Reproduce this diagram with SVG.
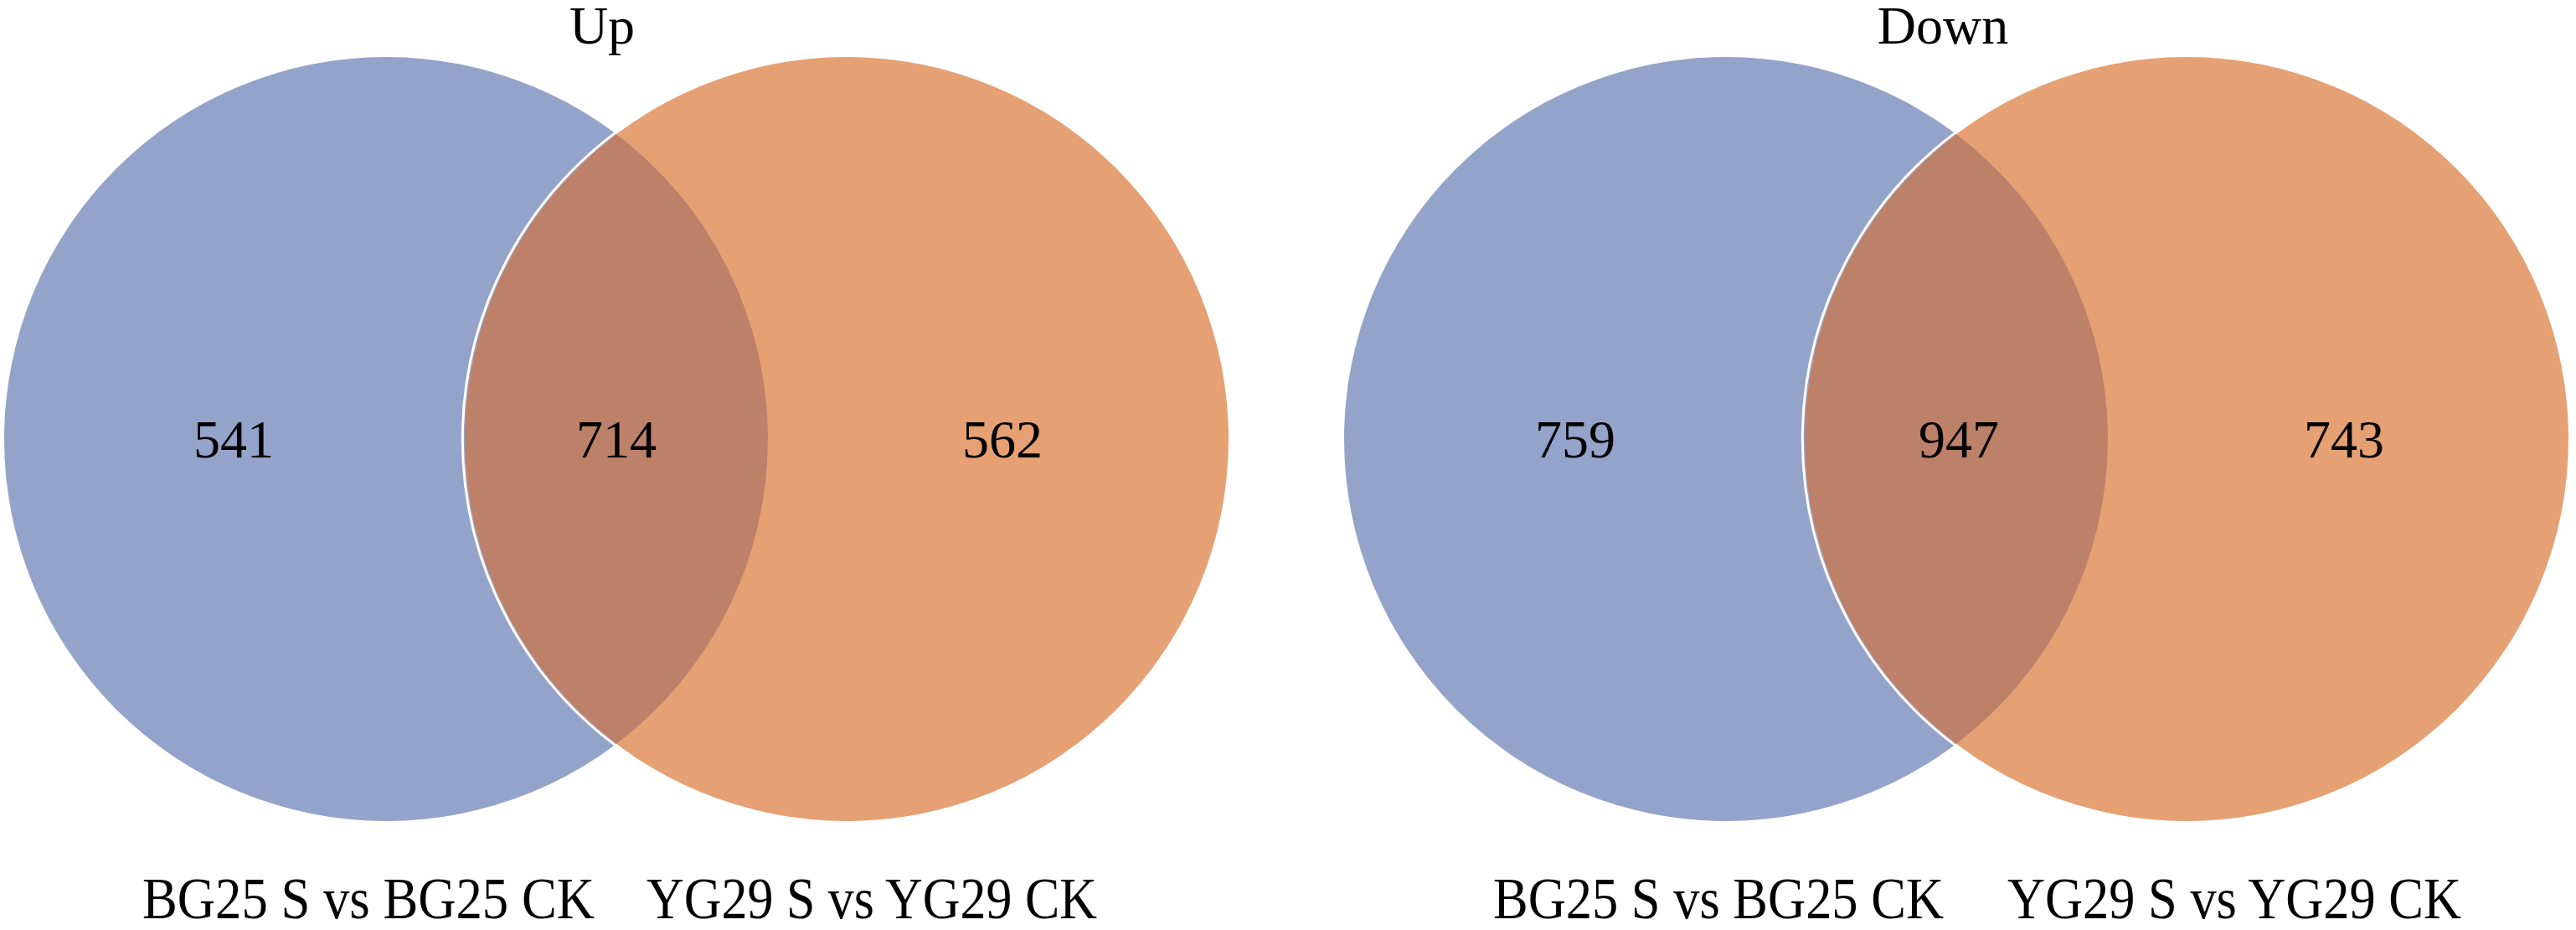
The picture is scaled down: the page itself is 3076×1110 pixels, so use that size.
<svg xmlns="http://www.w3.org/2000/svg" width="3076" height="1110" viewBox="0 0 3076 1110">
<style>
.bg{fill:#ffffff}
.a{fill:#94A3CA}
.b{fill:#E5A073}
.ab{fill:#BD8069}
.edge{fill:none;stroke:#ffffff;stroke-width:3}
.num{font-family:"Liberation Serif","Times New Roman",serif;font-size:64px;fill:#000;text-anchor:middle}
.title{font-family:"Liberation Serif","Times New Roman",serif;font-size:64px;fill:#000;text-anchor:middle}
.lab{font-family:"Liberation Serif","Times New Roman",serif;font-size:70px;fill:#000;text-anchor:middle}
</style>
<rect class="bg" x="0" y="0" width="3076" height="1110"/>
<g id="venn-up">
  <text class="title" x="719" y="52">Up</text>
  <g id="up-set-a"><circle class="a" cx="461" cy="524" r="456"/></g>
  <g id="up-set-b"><circle class="b" cx="1011" cy="524" r="456"/></g>
  <g id="up-overlap">
    <path class="ab" d="M736,160.3 A456,456 0 0 1 736,887.7 A456,456 0 0 1 736,160.3 Z"/>
    <path class="edge" d="M734.5,158.6 A457.5,457.5 0 0 0 734.5,889.4"/>
  </g>
  <text class="num" x="279" y="546">541</text>
  <text class="num" x="736" y="546">714</text>
  <text class="num" x="1197" y="546">562</text>
  <text class="lab" x="440" y="1096" textLength="540" lengthAdjust="spacingAndGlyphs">BG25 S vs BG25 CK</text>
  <text class="lab" x="1041" y="1096" textLength="538" lengthAdjust="spacingAndGlyphs">YG29 S vs YG29 CK</text>
</g>
<g id="venn-down">
  <text class="title" x="2320" y="52">Down</text>
  <g id="down-set-a"><circle class="a" cx="2061" cy="524" r="456"/></g>
  <g id="down-set-b"><circle class="b" cx="2611" cy="524" r="456"/></g>
  <g id="down-overlap">
    <path class="ab" d="M2336,160.3 A456,456 0 0 1 2336,887.7 A456,456 0 0 1 2336,160.3 Z"/>
    <path class="edge" d="M2334.5,158.6 A457.5,457.5 0 0 0 2334.5,889.4"/>
  </g>
  <text class="num" x="1881" y="546">759</text>
  <text class="num" x="2339" y="546">947</text>
  <text class="num" x="2799" y="546">743</text>
  <text class="lab" x="2052" y="1096" textLength="538" lengthAdjust="spacingAndGlyphs">BG25 S vs BG25 CK</text>
  <text class="lab" x="2668" y="1096" textLength="542" lengthAdjust="spacingAndGlyphs">YG29 S vs YG29 CK</text>
</g>
<g id="connectors"></g>
</svg>
